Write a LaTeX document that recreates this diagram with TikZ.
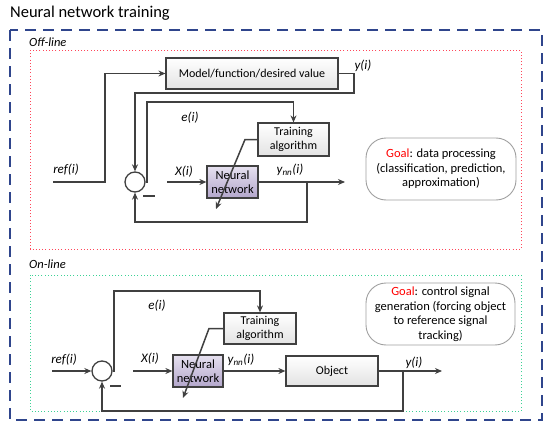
\documentclass[tikz,border=0pt]{standalone}
\usepackage{fontspec}
\setmainfont{Carlito}
\usetikzlibrary{arrows.meta,shadows}
\definecolor{lin}{HTML}{404040}
\definecolor{outerblue}{RGB}{47,69,140}
\definecolor{nntop}{HTML}{E6E1EF}
\definecolor{nnbot}{HTML}{B3A6CC}
\definecolor{dotred}{RGB}{255,70,90}
\definecolor{dotgreen}{RGB}{60,210,150}
\tikzset{
  conn/.style={draw=lin, line width=1.5pt, -{Stealth[length=7pt,width=6pt]}},
  plain/.style={draw=lin, line width=1.5pt},
  blockbox/.style={draw=lin, line width=1.2pt, top color=white, bottom color=gray!22, inner sep=1pt, align=center, font=\fontsize{12}{13.5}\selectfont, drop shadow={shadow xshift=1pt, shadow yshift=-1pt, opacity=0.25}},
  nnbox/.style={draw=lin, line width=1.2pt, top color=nntop, bottom color=nnbot, inner sep=1pt, align=center, font=\fontsize{12.5}{14}\selectfont, drop shadow={shadow xshift=1pt, shadow yshift=-1pt, opacity=0.25}},
  sumnode/.style={circle, draw=lin, line width=1.3pt, fill=white, minimum size=20pt, inner sep=0pt},
  goalbox/.style={draw=gray!75, line width=0.9pt, rounded corners=20pt, align=center, font=\fontsize{12.5}{14.5}\selectfont, inner sep=1pt},
  lab/.style={font=\fontsize{13}{15}\selectfont\itshape, inner sep=0pt},
  seclab/.style={font=\fontsize{12.5}{14}\selectfont\itshape, inner sep=0pt, anchor=west},
}
\begin{document}
\begin{tikzpicture}[x=1pt,y=-1pt]
\useasboundingbox (0,0) rectangle (550,431);
% title
\node[font=\fontsize{16.5}{18}\selectfont, anchor=west, inner sep=0pt] (title) at (10,13) {Neural network training};
% outer dashed frame
\draw[outerblue, line width=2.6pt, dash pattern=on 11pt off 7pt] (10,30) rectangle (542,420);
% section frames
\draw[dotred, line width=1pt, dash pattern=on 1pt off 2.2pt] (30,50) rectangle (521,249);
\draw[dotgreen, line width=1pt, dash pattern=on 1pt off 2.2pt] (30,275) rectangle (521,411);
\node[seclab] (offl) at (29,42) {Off-line};
\node[seclab] (onl) at (29,264) {On-line};

% ---------------- Off-line ----------------
\node[blockbox, minimum width=172pt, minimum height=31pt] (model) at (252,73.5) {Model/function/desired value};
\node[blockbox, minimum width=71pt, minimum height=33pt] (train1) at (293.5,139.5) {Training\\algorithm};
\node[nnbox, minimum width=51pt, minimum height=32pt] (nn1) at (232.5,182) {Neural\\network};
\node[sumnode] (c1) at (135,182) {};
\node[goalbox, minimum width=150pt, minimum height=62pt] (goal1) at (441,169)
  {\textcolor{red}{Goal}: data processing\\(classification, prediction,\\approximation)};

\coordinate (ref1) at (53,182);
\coordinate (x1) at (167,182);
\coordinate (out1) at (345,182);
\draw[conn] (ref1) -- (105,182) |- (model.west);
\draw[conn] (model.east) -- (354,73.5) -- (354,93) -| (c1.north);
\draw[conn] (c1.east) -| (147,102) -| (train1.north);
\draw[conn] (x1) -- (nn1.west);
\draw[conn] (nn1.east) -- (out1);
\draw[conn] (307,182) -- (307,222) -| (c1.south);
\draw[conn] (train1.west) -- (245,139.5) -- (216,209);
\draw[plain] (143,196) -- (155,196);

\node[lab] (lref1) at (66,170) {ref(i)};
\node[lab] (ly1) at (363,66) {y(i)};
\node[lab] (le1) at (190,118) {e(i)};
\node[lab] (lx1) at (184,172) {X(i)};
\node[lab] (lyn1) at (290,170) {y\textsubscript{\itshape nn}(i)};

% ---------------- On-line ----------------
\node[blockbox, minimum width=72pt, minimum height=31pt] (train2) at (260,328.5) {Training\\algorithm};
\node[nnbox, minimum width=50pt, minimum height=32pt] (nn2) at (198,371) {Neural\\network};
\node[blockbox, minimum width=92pt, minimum height=30pt] (obj) at (332,371) {Object};
\node[sumnode] (c2) at (102,371) {};
\node[goalbox, minimum width=149pt, minimum height=62pt] (goal2) at (440.5,314)
  {\textcolor{red}{Goal}: control signal\\generation (forcing object\\to reference signal\\tracking)};

\coordinate (ref2) at (52,371);
\coordinate (x2) at (133,371);
\coordinate (out2) at (442,371);
\draw[conn] (ref2) -- (c2.west);
\draw[conn] (c2.east) -| (114,291) -| (train2.north);
\draw[conn] (x2) -- (nn2.west);
\draw[conn] (nn2.east) -- (obj.west);
\draw[conn] (obj.east) -- (out2);
\draw[conn] (403,371) -- (403,411) -| (c2.south);
\draw[conn] (train2.west) -- (209,328.5) -- (183,398);
\draw[plain] (110,386) -- (121,386);

\node[lab] (lref2) at (64,360) {ref(i)};
\node[lab] (le2) at (157,306) {e(i)};
\node[lab] (lx2) at (150,359) {X(i)};
\node[lab] (lyn2) at (241,360) {y\textsubscript{\itshape nn}(i)};
\node[lab] (ly2) at (414,363) {y(i)};
\end{tikzpicture}
\end{document}
